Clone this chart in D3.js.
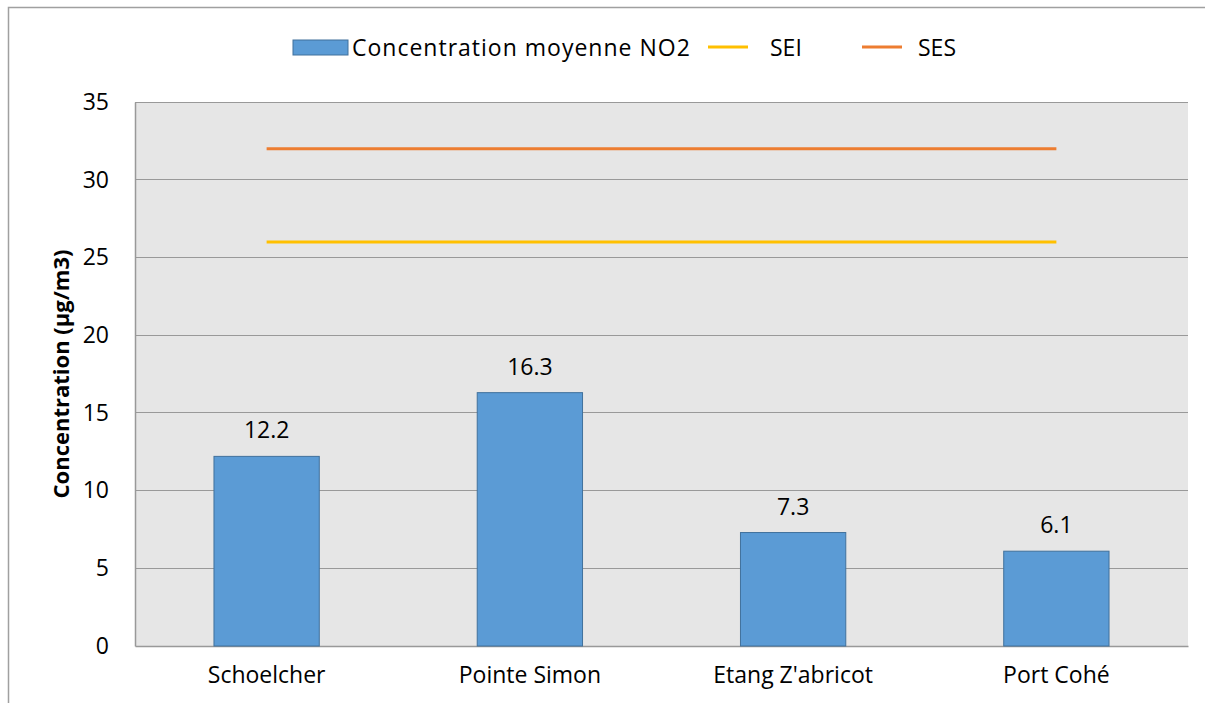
<!DOCTYPE html>
<html>
<head>
<meta charset="utf-8">
<script src="https://cdn.jsdelivr.net/npm/d3@7"></script>
<style>
  body { margin: 0; background: #fff; }
  text { font-family: "Open Sans", "DejaVu Sans", sans-serif; fill: #000; }
</style>
</head>
<body>
<svg id="chart" width="1205" height="703"></svg>
<script>
// data
var stations = ["Schoelcher", "Pointe Simon", "Etang Z'abricot", "Port Cohé"];
var no2Values = [12.2, 16.3, 7.3, 6.1];
var seiValues = [26, 26, 26, 26];
var sesValues = [32, 32, 32, 32];
var yTicks = [0, 5, 10, 15, 20, 25, 30, 35];
var legendLabels = ["Concentration moyenne NO2", "SEI", "SES"];

var svg = d3.select("#chart");
var margin = { left: 135, right: 17, top: 102, bottom: 57 };
var width = 1205 - margin.left - margin.right,
  height = 703 - margin.top - margin.bottom;
var fontSize = "23px";

// outer frame
svg.append("rect")
  .attr("x", 8.5).attr("y", 7.5)
  .attr("width", 1220).attr("height", 720)
  .style("fill", "none")
  .style("stroke", "#a0a0a0")
  .style("stroke-width", "1.5px");

var g = svg.append("g").attr("transform", "translate(" + margin.left + "," + margin.top + ")");

var x = d3.scaleBand()
  .domain(stations)
  .range([0, width])
  .paddingInner(0.6)
  .paddingOuter(0.3);

var y = d3.scaleLinear().domain([0, 35]).range([height, 0]);

// plot background
g.append("rect")
  .attr("width", width).attr("height", height)
  .style("fill", "#e6e6e6");

// gridlines
g.append("g")
  .selectAll("line")
  .data(yTicks.slice(1))
  .enter()
  .append("line")
  .attr("x1", 0).attr("x2", width)
  .attr("y1", function (d) { return y(d); })
  .attr("y2", function (d) { return y(d); })
  .style("stroke", "#999")
  .style("stroke-width", "1px")
  .style("shape-rendering", "crispEdges");

// y axis
var yAxis = g.append("g")
  .call(d3.axisLeft(y).tickValues(yTicks).tickSize(0).tickPadding(26));
yAxis.select(".domain").style("stroke", "#999").style("stroke-width", "1.5px");
yAxis.selectAll("text").style("font-size", fontSize);

// x axis
var xAxis = g.append("g")
  .attr("transform", "translate(0," + height + ")")
  .call(d3.axisBottom(x).tickSize(0).tickPadding(21));
xAxis.select(".domain").style("stroke", "#999").style("stroke-width", "1.5px");
xAxis.selectAll("text").style("font-size", fontSize);

// bars
g.append("g")
  .selectAll("rect")
  .data(no2Values)
  .enter()
  .append("rect")
  .attr("x", function (d, i) { return x(stations[i]); })
  .attr("y", function (d) { return y(d); })
  .attr("width", x.bandwidth())
  .attr("height", function (d) { return height - y(d); })
  .style("fill", "#5b9bd5")
  .style("stroke", "#41719c")
  .style("stroke-width", "1px");

// value labels
g.append("g")
  .selectAll("text")
  .data(no2Values)
  .enter()
  .append("text")
  .attr("x", function (d, i) { return x(stations[i]) + x.bandwidth() / 2; })
  .attr("y", function (d) { return y(d) - 18; })
  .attr("text-anchor", "middle")
  .style("font-size", fontSize)
  .text(function (d) { return d.toFixed(1); });

// threshold lines
var line = d3.line()
  .x(function (d, i) { return x(stations[i]) + x.bandwidth() / 2; })
  .y(function (d) { return y(d); });

g.append("path").datum(seiValues)
  .attr("d", line)
  .style("fill", "none").style("stroke", "#ffc000").style("stroke-width", "3px");
g.append("path").datum(sesValues)
  .attr("d", line)
  .style("fill", "none").style("stroke", "#ed7d31").style("stroke-width", "3px");

// y axis title
svg.append("text")
  .attr("transform", "translate(69,374) rotate(-90)")
  .attr("text-anchor", "middle")
  .style("font-size", "22px")
  .style("font-weight", "bold")
  .text("Concentration (µg/m3)");

// legend
var legend = svg.append("g");
legend.append("rect")
  .attr("x", 293).attr("y", 40).attr("width", 55).attr("height", 15)
  .style("fill", "#5b9bd5").style("stroke", "#41719c").style("stroke-width", "1px");
legend.append("text")
  .attr("x", 352).attr("y", 56)
  .style("font-size", fontSize)
  .style("letter-spacing", "1px")
  .text(legendLabels[0]);
legend.append("line")
  .attr("x1", 708).attr("x2", 748).attr("y1", 47).attr("y2", 47)
  .style("stroke", "#ffc000").style("stroke-width", "3px");
legend.append("text")
  .attr("x", 770).attr("y", 56)
  .style("font-size", fontSize)
  .text(legendLabels[1]);
legend.append("line")
  .attr("x1", 862).attr("x2", 902).attr("y1", 47).attr("y2", 47)
  .style("stroke", "#ed7d31").style("stroke-width", "3px");
legend.append("text")
  .attr("x", 918).attr("y", 56)
  .style("font-size", fontSize)
  .text(legendLabels[2]);
</script>
</body>
</html>
